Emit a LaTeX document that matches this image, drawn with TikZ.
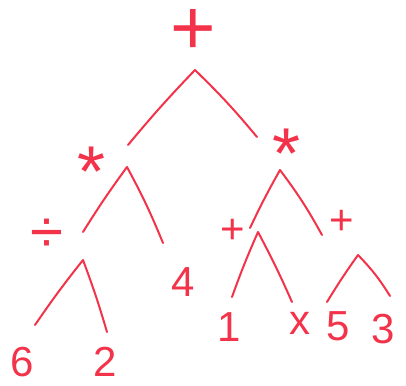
\documentclass[tikz,border=0pt]{standalone}
\usepackage{fontspec}
\setmainfont{Liberation Sans}
\definecolor{ink}{HTML}{F2334A}
\begin{document}
\begin{tikzpicture}[x=1pt,y=-1pt,
  lbl/.style={text=ink,inner sep=0pt,font=\fontsize{42}{42}\selectfont},
  big/.style={text=ink,inner sep=0pt,font=\fontsize{78}{78}\selectfont,text height=48pt,text depth=0pt},
  star/.style={text=ink,inner sep=0pt,font=\fontsize{72}{72}\selectfont},
  leg/.style={draw=ink,line width=2pt,line cap=round,line join=round}]
\useasboundingbox (0,0) rectangle (406,385);
% labels
\node[big] (root) at (193,31) {+};
\node[star] (mulL) at (92,172) {*};
\node[star] (mulR) at (287,154) {*};
\node[lbl,font=\fontsize{60}{60}\selectfont] (div) at (47,236) {÷};
\node[lbl] (four) at (183,282) {4};
\node[lbl] (plusA) at (233,231) {+};
\node[lbl] (plusB) at (342,222) {+};
\node[lbl] (six) at (22,362) {6};
\node[lbl] (two) at (105,362) {2};
\node[lbl] (one) at (229,327) {1};
\node[lbl] (xx) at (300,323) {x};
\node[lbl] (five) at (338,326) {5};
\node[lbl] (three) at (383,329) {3};
% branch apexes and leg ends
\coordinate (aR) at (195,70);
\coordinate (aRl) at (128,145);
\coordinate (aRr) at (257,137);
\coordinate (aML) at (127,167);
\coordinate (aMLl) at (83,232);
\coordinate (aMLr) at (163,243);
\coordinate (aMR) at (280,170);
\coordinate (aMRl) at (250,228);
\coordinate (aMRr) at (322,235);
\coordinate (aD) at (83,260);
\coordinate (aDl) at (35,325);
\coordinate (aDr) at (107,332);
\coordinate (aPA) at (258,232);
\coordinate (aPAl) at (232,297);
\coordinate (aPAr) at (292,302);
\coordinate (aPB) at (358,255);
\coordinate (aPBl) at (327,302);
\coordinate (aPBr) at (390,296);
% connectors
\draw[leg] (aRl) to[bend left=2] (aR) to[bend left=3] (aRr);
\draw[leg] (aMLl) to[bend left=2] (aML) to[bend left=3] (aMLr);
\draw[leg] (aMRl) to[bend left=2] (aMR) to[bend left=4] (aMRr);
\draw[leg] (aDl) to[bend left=2] (aD) to[bend left=2] (aDr);
\draw[leg] (aPAl) to[bend left=2] (aPA) to[bend left=2] (aPAr);
\draw[leg] (aPBl) to[bend left=2] (aPB) to[bend left=6] (aPBr);
\end{tikzpicture}
\end{document}
